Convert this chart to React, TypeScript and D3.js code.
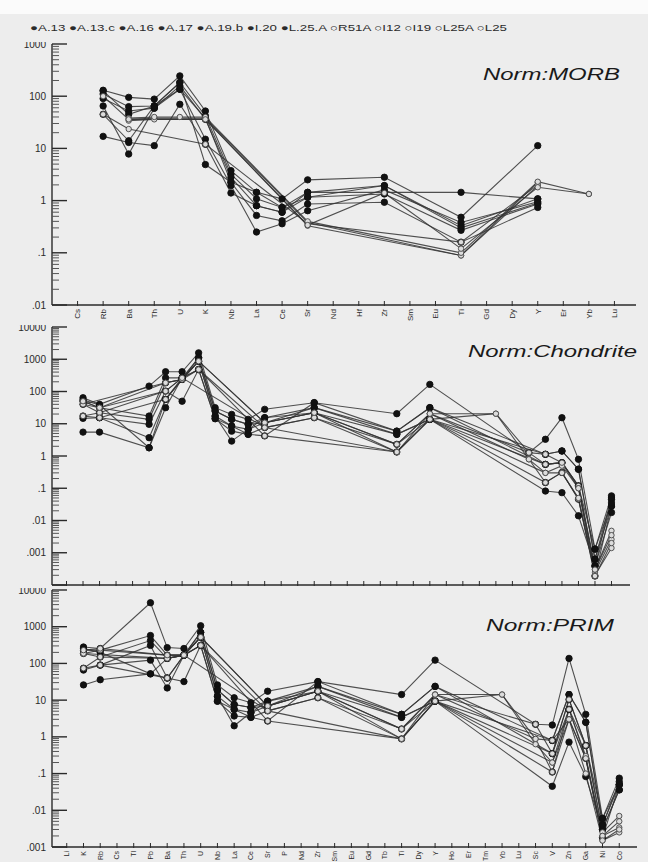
import React from 'react';
import * as d3 from 'd3';

// samples, as listed in the legend (filled dots first, then open circles)
const SAMPLES = ['A.13', 'A.13.c', 'A.16', 'A.17', 'A.19.b', 'I.20', 'L.25.A', 'R51A', 'I12', 'I19', 'L25A', 'L25'];
const FILLED = [true, true, true, true, true, true, true, false, false, false, false, false];

const MORB_ELEMENTS = ['Cs', 'Rb', 'Ba', 'Th', 'U', 'K', 'Nb', 'La', 'Ce', 'Sr', 'Nd', 'Hf', 'Zr', 'Sm', 'Eu', 'Ti', 'Gd', 'Dy', 'Y', 'Er', 'Yb', 'Lu'];
const SPIDER_ELEMENTS = ['Li', 'K', 'Rb', 'Cs', 'Tl', 'Pb', 'Ba', 'Th', 'U', 'Nb', 'La', 'Ce', 'Sr', 'P', 'Nd', 'Zr', 'Sm', 'Eu', 'Gd', 'Tb', 'Ti', 'Dy', 'Y', 'Ho', 'Er', 'Tm', 'Yb', 'Lu', 'Sc', 'V', 'Zn', 'Ga', 'Ni', 'Co'];

// analysed elements (columns of the value rows below)
const MORB_COLS = ['Rb', 'Ba', 'Th', 'U', 'K', 'Nb', 'La', 'Ce', 'Sr', 'Zr', 'Ti', 'Y', 'Yb'];
const TRACE_COLS = ['K', 'Rb', 'Pb', 'Ba', 'Th', 'U', 'Nb', 'La', 'Ce', 'Sr', 'Zr', 'Ti', 'Y', 'Yb', 'Sc', 'V', 'Zn', 'Ga', 'Ni', 'Co'];

// MORB-normalised values, one row per sample
const MORB_VALUES: (number | null)[][] = [
  [130, 95, 88, 245, 52, 3.75, 1.44, 1.08, 2.5, 2.8, 0.48, 11.3, null],
  [110, 63, 65, 183, 42, 3.2, 1.08, 0.74, 1.44, 1.94, 0.33, 1.08, null],
  [90, 52, 59, 158, 36, 2.8, 0.8, 0.6, 1.16, 1.34, 0.27, 0.86, null],
  [126, 45, 65, 136, 38, 2.24, 0.52, 0.41, 0.86, 0.93, 0.16, 0.74, null],
  [65, 7.8, 59, 136, 15, 1.94, 0.25, 0.36, 0.64, 1.6, 0.38, 0.95, null],
  [17, 13, 11.3, 70, 12, 1.4, 0.8, 0.6, 1.44, null, 1.44, 1.08, null],
  [45, 14, 65, 183, 4.9, 2.24, 1.44, 0.74, 1.16, 1.94, 0.3, 0.9, null],
  [100, 36, 38, null, 38, null, null, null, 0.38, null, 0.089, 2.24, null],
  [null, 34, 36, null, 36, null, null, null, 0.33, null, 0.089, 1.94, null],
  [45, 23.5, null, null, 12, null, null, null, 0.36, null, 0.16, 2.0, null],
  [null, 38, 40, 40, 40, null, null, null, 0.4, null, 0.1, 2.3, 1.34],
  [null, 36, null, null, 36, null, null, null, 0.34, 1.4, 0.12, 1.8, 1.34],
];

// chondrite-normalised values
const CHONDRITE_VALUES: (number | null)[][] = [
  [64, 40, 147, 410, 410, 1580, 31.5, 19.5, 13.7, 28, 45, 20.5, 166, null, 1.27, 3.3, 15.4, 0.79, 0.0013, 0.058],
  [50, 31.5, 17.3, 265, 265, 1110, 24.8, 13.7, 9.6, 15.4, 31.5, 5.9, 31.5, null, null, 1.13, 1.43, 0.39, 0.00063, 0.028],
  [40, 22, 13.7, 186, 237, 870, 17.3, 8.5, 6.7, 10.8, 22, 4.7, 13.7, null, null, 0.55, 0.62, 0.118, 0.00039, 0.0177],
  [17.3, 15.4, 9.6, 103, 50, 480, 14.4, 5.9, 4.7, 7.6, 15.4, 2.3, 13.7, null, null, 0.15, 0.31, 0.046, 0.00019, 0.028],
  [14.7, 15.4, 3.7, 57, 265, 870, 17.3, 2.9, 6.7, 15.4, 22, 1.33, 13.7, null, null, 0.082, 0.073, 0.014, 0.00039, 0.045],
  [5.5, 5.5, 1.8, 31.5, 265, 480, 14.4, 8.5, 4.7, 4.2, 45, 5.9, 31.5, null, null, 0.55, 0.62, 0.118, 0.0013, 0.035],
  [55, 38, 1.8, 57, 237, 1110, 24.8, 13.7, 9.6, 10.8, 31.5, 4.7, 13.7, null, null, 1.13, 1.43, 0.39, 0.00063, 0.05],
  [40, 31.5, null, 186, 237, 870, null, null, null, 10.8, 22, 2.3, 20.5, null, 1.27, 0.55, 0.62, 0.118, 0.0003, 0.0048],
  [17.3, 22, null, 103, 265, null, null, null, null, 7.6, 15.4, 1.33, 20.5, null, 0.79, 0.15, 0.31, 0.046, 0.00025, 0.0026],
  [null, 15.4, null, 57, 237, 480, null, null, null, 4.2, null, 1.33, 13.7, null, null, 0.3, 0.3, 0.05, 0.0002, 0.0014],
  [40, null, null, 186, 237, 870, null, null, null, 10.8, 22, 2.3, 20.5, 20.5, 0.79, 0.3, 0.5, 0.1, 0.0003, 0.0035],
  [50, 31.5, null, 103, 265, 480, null, null, null, 7.6, null, 1.33, 13.7, 20.5, 1.27, 1.13, 0.62, 0.1, 0.00019, 0.002],
];

// primitive-mantle-normalised values
const PRIM_VALUES: (number | null)[][] = [
  [280, 255, 4500, 270, 255, 1060, 26, 11.6, 8.5, 17.5, 32, 14.2, 123, null, 2.2, 2.1, 137, 4.1, 0.006, 0.075],
  [230, 230, 575, 168, 168, 700, 19, 7.6, 6.3, 9.4, 23.7, 4.1, 23.7, null, null, 0.8, 14.2, 2.5, 0.004, 0.05],
  [187, 150, 420, 137, 168, 520, 12.8, 5.6, 4.6, 6.9, 17.5, 3.4, 9.4, null, null, 0.35, 10.4, 0.58, 0.003, 0.036],
  [74, 90, 310, 40, 32, 310, 9.4, 3.7, 3.4, 5.1, 11.6, 1.64, 9.4, null, null, 0.11, 5.6, 0.26, 0.0018, 0.05],
  [66, 90, 123, 21.5, 168, 520, 12.8, 2.0, 4.6, 9.4, 17.5, 0.88, 9.4, null, null, 0.045, 0.72, 0.083, 0.003, 0.036],
  [26, 36, 52, 40, 168, 310, 9.4, 5.6, 3.4, 2.7, 32, 4.1, 23.7, null, null, 0.35, 5.6, 0.58, 0.006, 0.05],
  [250, 200, 52, 137, 168, 700, 19, 7.6, 6.3, 6.9, 23.7, 3.4, 9.4, null, null, 0.8, 14.2, 2.5, 0.004, 0.06],
  [187, 230, null, 168, 168, 520, null, null, null, 6.9, 17.5, 1.64, 14.2, null, 2.2, 0.35, 10.4, 0.58, 0.0025, 0.007],
  [74, 150, null, 137, 168, null, null, null, null, 5.1, 11.6, 0.88, 14.2, null, 0.88, 0.11, 3.0, 0.26, 0.002, 0.0034],
  [null, 90, null, 40, 168, 310, null, null, null, 2.7, null, 0.88, 9.4, null, null, 0.2, 3.0, 0.1, 0.0015, 0.0025],
  [187, null, null, 137, 168, 520, null, null, null, 6.9, 17.5, 1.64, 14.2, 14.2, 0.63, 0.2, 5.6, 0.3, 0.002, 0.005],
  [230, 255, null, 168, 168, 310, null, null, null, 5.1, null, 0.88, 9.4, 14.2, 0.88, 0.8, 3.0, 0.26, 0.0015, 0.003],
];

const MORB_TICKS = [0.01, 0.1, 1, 10, 100, 1000];
const CHONDRITE_TICKS = [0.001, 0.01, 0.1, 1, 10, 100, 1000, 10000];
const PRIM_TICKS = [0.001, 0.01, 0.1, 1, 10, 100, 1000, 10000];

const FONT = 'Liberation Sans, Arial, sans-serif';
const INK = '#2a2a2a';
const AXIS_X = 52;

const panels = [
  {
    id: 'morb', title: 'Norm:MORB', elements: MORB_ELEMENTS, cols: MORB_COLS, rows: MORB_VALUES,
    domain: [0.01, 1000], ticks: MORB_TICKS, top: 44, bottom: 305, xRange: [52, 640], axisEnd: 636,
    showLabels: true, labelSize: 8, titleX: 483, titleY: 80, titleLen: 137,
  },
  {
    id: 'chon', title: 'Norm:Chondrite', elements: SPIDER_ELEMENTS, cols: TRACE_COLS, rows: CHONDRITE_VALUES,
    domain: [0.0001, 10000], ticks: CHONDRITE_TICKS, top: 327, bottom: 585, xRange: [50, 628], axisEnd: 630,
    showLabels: false, labelSize: 8, titleX: 468, titleY: 357, titleLen: 169,
  },
  {
    id: 'prim', title: 'Norm:PRIM', elements: SPIDER_ELEMENTS, cols: TRACE_COLS, rows: PRIM_VALUES,
    domain: [0.001, 10000], ticks: PRIM_TICKS, top: 590, bottom: 847, xRange: [50, 636], axisEnd: 637,
    showLabels: true, labelSize: 7, titleX: 486, titleY: 631, titleLen: 128,
  },
];

const fmt = (v: number) => (v >= 1 ? String(v) : String(v).replace(/^0/, ''));

function Panel({ cfg }: { cfg: any }) {
  const x = d3.scalePoint<string>().domain(cfg.elements).range(cfg.xRange).padding(1);
  const y = d3.scaleLog().domain(cfg.domain).range([cfg.bottom, cfg.top]);

  const lo = Math.round(Math.log10(cfg.domain[0]));
  const hi = Math.round(Math.log10(cfg.domain[1]));
  const minor: number[] = [];
  for (let e = lo; e < hi; e++) {
    for (let k = 2; k <= 9; k++) minor.push(k * Math.pow(10, e));
  }
  const major = d3.range(lo, hi + 1).map((e) => Math.pow(10, e));

  const series = cfg.rows.map((row: (number | null)[], i: number) => ({
    name: SAMPLES[i],
    filled: FILLED[i],
    pts: cfg.cols
      .map((c: string, j: number) => ({ c, v: row[j] }))
      .filter((d: any) => d.v != null),
  }));

  const line = d3.line<any>().x((d) => x(d.c) as number).y((d) => y(d.v));

  return (
    <g>
      <clipPath id={`clip-${cfg.id}`}>
        <rect x={0} y={cfg.top - 2} width={648} height={cfg.bottom - cfg.top + 12} />
      </clipPath>
      {/* y axis */}
      <line x1={AXIS_X} x2={AXIS_X} y1={cfg.top} y2={cfg.bottom} stroke={INK} strokeWidth={1.4} />
      {minor.map((v, i) => (
        <line key={'mn' + i} x1={AXIS_X} x2={AXIS_X + 7} y1={y(v)} y2={y(v)} stroke="#555" strokeWidth={1} />
      ))}
      {major.map((v, i) => (
        <line key={'mj' + i} x1={AXIS_X} x2={AXIS_X + 15} y1={y(v)} y2={y(v)} stroke={INK} strokeWidth={1.4} />
      ))}
      <g clipPath={`url(#clip-${cfg.id})`}>
        {cfg.ticks.map((v: number, i: number) => (
          <text key={'yl' + i} x={46} y={y(v)} dy="0.35em" textAnchor="end" fontSize={10} fontFamily={FONT} fill={INK}>
            {fmt(v)}
          </text>
        ))}
      </g>
      {/* x axis */}
      <line x1={AXIS_X} x2={cfg.axisEnd} y1={cfg.bottom} y2={cfg.bottom} stroke={INK} strokeWidth={1.4} />
      {cfg.elements.map((el: string) => (
        <line key={'xt' + el} x1={x(el)} x2={x(el)} y1={cfg.bottom - 4} y2={cfg.bottom + 1} stroke={INK} strokeWidth={1} />
      ))}
      {cfg.showLabels &&
        cfg.elements.map((el: string) => (
          <text
            key={'xl' + el}
            transform={`translate(${x(el)},${cfg.bottom + 4}) rotate(-90)`}
            dy="0.35em"
            textAnchor="end"
            fontSize={cfg.labelSize}
            fontFamily={FONT}
            fill={INK}
          >
            {el}
          </text>
        ))}
      {/* title */}
      <text
        x={cfg.titleX}
        y={cfg.titleY}
        fontSize={16.5}
        fontStyle="italic"
        fontFamily={FONT}
        fill="#1a1a1a"
        textLength={cfg.titleLen}
        lengthAdjust="spacingAndGlyphs"
      >
        {cfg.title}
      </text>
      {/* data */}
      {series.map((s: any) => (
        <path key={'ln' + s.name} d={line(s.pts) || ''} fill="none" stroke="#333" strokeWidth={1.1} strokeOpacity={0.85} />
      ))}
      {series.map((s: any) =>
        s.pts.map((d: any) => (
          <circle
            key={s.name + d.c}
            cx={x(d.c)}
            cy={y(d.v)}
            r={s.filled ? 3.2 : 2.7}
            fill={s.filled ? '#111' : '#dcdcdc'}
            stroke={s.filled ? '#111' : '#444'}
            strokeWidth={0.9}
          />
        ))
      )}
    </g>
  );
}

export default function App() {
  const legend = SAMPLES.map((s, i) => (FILLED[i] ? '\u25CF' : '\u25CB') + s).join(' ');
  return (
    <svg
      width={648}
      height={862}
      style={{ position: 'absolute', left: 0, top: 0, display: 'block' }}
    >
      <rect x={0} y={0} width={648} height={862} fill="#ededed" />
      <rect x={0} y={0} width={648} height={14} fill="#fbfbfb" />
      <text
        x={30}
        y={31}
        fontSize={9}
        fontFamily={FONT}
        fill={INK}
        textLength={477}
        lengthAdjust="spacingAndGlyphs"
      >
        {legend}
      </text>
      {panels.map((p) => (
        <Panel key={p.id} cfg={p} />
      ))}
    </svg>
  );
}
